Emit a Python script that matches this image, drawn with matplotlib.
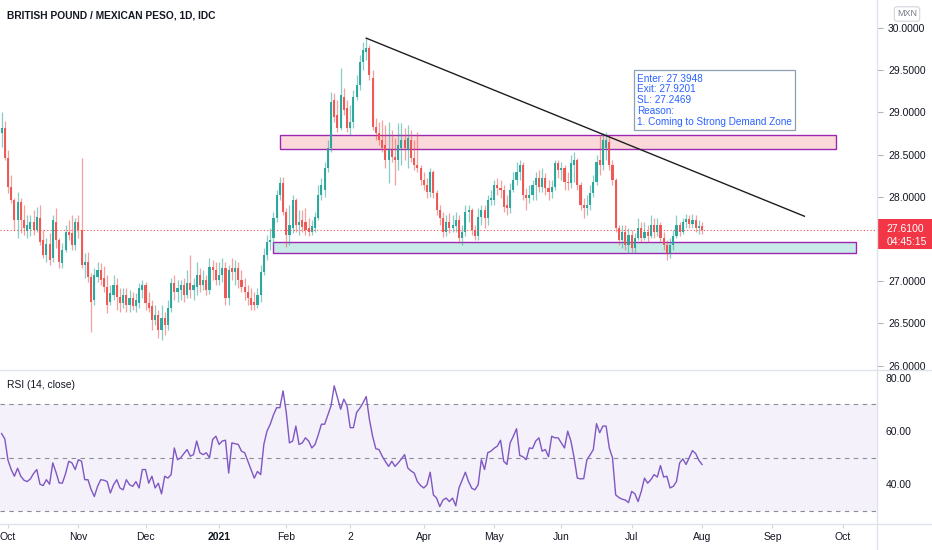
import numpy as np
import pandas as pd
import matplotlib
matplotlib.use("Agg")
import matplotlib.pyplot as plt
from matplotlib.patches import Rectangle
from matplotlib.lines import Line2D

plt.rcParams['font.family'] = ['Liberation Sans Narrow', 'Liberation Sans', 'DejaVu Sans']

# daily GBP/MXN candles from 29 Sep 2020 to 2 Aug 2021
first_day = '2020-09-29'
opens = [28.76, 28.82, 28.46, 28.12, 27.96, 27.73, 27.94, 27.73, 27.60, 27.62,
         27.70, 27.61, 27.75, 27.49, 27.31, 27.44, 27.28, 27.70, 27.49, 27.22,
         27.37, 27.58, 27.57, 27.43, 27.70, 27.61, 27.19, 27.23, 27.05, 26.78,
         27.05, 27.13, 27.04, 26.93, 26.75, 26.84, 26.96, 26.81, 26.74, 26.84,
         26.72, 26.80, 26.71, 26.74, 26.90, 26.96, 26.74, 26.71, 26.54, 26.60,
         26.42, 26.56, 26.48, 26.68, 26.98, 26.87, 26.90, 26.96, 26.84, 26.98,
         26.90, 26.93, 27.07, 26.96, 27.01, 26.90, 27.17, 27.13, 27.01, 27.07,
         27.16, 26.80, 27.16, 27.11, 27.16, 27.01, 26.93, 26.87, 26.80, 26.75,
         26.72, 26.84, 27.11, 27.31, 27.47, 27.51, 27.75, 28.02, 28.16, 27.82,
         27.55, 27.63, 27.96, 27.67, 27.73, 27.70, 27.63, 27.58, 27.63, 27.75,
         28.02, 28.08, 28.34, 28.58, 29.15, 28.97, 28.82, 29.18, 29.05, 28.82,
         28.89, 29.18, 29.33, 29.60, 29.72, 29.76, 29.41, 28.83, 28.76, 28.67,
         28.61, 28.44, 28.55, 28.47, 28.44, 28.58, 28.67, 28.55, 28.67, 28.46,
         28.38, 28.34, 28.20, 28.14, 28.06, 28.29, 28.05, 27.84, 27.75, 27.58,
         27.70, 27.63, 27.65, 27.73, 27.51, 27.58, 27.82, 27.84, 27.61, 27.54,
         27.76, 27.84, 27.75, 27.96, 27.96, 28.14, 28.11, 28.08, 27.90, 27.87,
         28.08, 28.20, 28.29, 28.38, 28.02, 27.99, 28.02, 28.14, 28.22, 28.12,
         28.22, 28.11, 28.06, 28.12, 28.40, 28.32, 28.34, 28.18, 28.16, 28.38,
         28.44, 28.14, 27.90, 27.87, 27.90, 28.05, 28.18, 28.44, 28.38, 28.58,
         28.65, 28.38, 28.20, 27.63, 27.49, 27.58, 27.43, 27.55, 27.39, 27.51,
         27.63, 27.51, 27.58, 27.54, 27.67, 27.58, 27.67, 27.51, 27.43, 27.33,
         27.43, 27.54, 27.67, 27.58, 27.70, 27.74, 27.68, 27.73, 27.63, 27.65]
highs = [29.01, 28.90, 28.55, 28.26, 27.99, 28.06, 27.99, 27.90, 27.79, 27.79,
         27.84, 27.88, 27.90, 27.61, 27.51, 27.57, 27.79, 27.87, 27.51, 27.45,
         27.67, 27.73, 27.79, 27.75, 27.79, 28.46, 27.33, 27.35, 27.10, 27.16,
         27.23, 27.22, 27.18, 27.07, 26.96, 27.07, 27.04, 26.92, 26.92, 26.92,
         26.90, 26.87, 26.86, 26.98, 27.01, 26.99, 26.87, 26.78, 26.72, 26.66,
         26.72, 26.64, 26.78, 27.04, 27.07, 27.01, 27.01, 27.04, 27.13, 27.31,
         27.04, 27.23, 27.16, 27.13, 27.07, 27.28, 27.25, 27.23, 27.23, 27.28,
         27.23, 27.19, 27.28, 27.25, 27.23, 27.13, 27.04, 26.96, 26.92, 26.87,
         26.92, 27.19, 27.39, 27.55, 27.63, 27.82, 28.08, 28.23, 28.23, 27.87,
         27.90, 28.02, 27.99, 27.84, 27.84, 27.87, 27.75, 27.73, 27.82, 28.14,
         28.22, 28.41, 28.67, 29.24, 29.23, 29.15, 29.53, 29.29, 29.15, 29.09,
         29.27, 29.44, 29.68, 29.83, 29.88, 29.80, 29.50, 28.93, 28.89, 28.91,
         28.85, 28.89, 28.79, 28.70, 28.87, 28.87, 28.82, 28.85, 28.79, 28.67,
         28.77, 28.38, 28.29, 28.22, 28.34, 28.32, 28.08, 27.90, 27.82, 27.79,
         27.81, 27.79, 27.82, 27.79, 27.67, 27.90, 27.90, 27.87, 27.67, 27.87,
         27.90, 27.90, 28.02, 28.08, 28.20, 28.22, 28.20, 28.14, 28.02, 28.16,
         28.29, 28.41, 28.44, 28.41, 28.11, 28.14, 28.20, 28.29, 28.32, 28.34,
         28.28, 28.20, 28.20, 28.44, 28.44, 28.41, 28.38, 28.29, 28.50, 28.53,
         28.46, 28.18, 27.99, 28.02, 28.14, 28.26, 28.50, 28.73, 28.76, 28.77,
         28.73, 28.44, 28.22, 27.67, 27.67, 27.67, 27.63, 27.61, 27.57, 27.75,
         27.70, 27.70, 27.67, 27.79, 27.75, 27.75, 27.70, 27.58, 27.49, 27.51,
         27.61, 27.79, 27.70, 27.75, 27.80, 27.79, 27.80, 27.79, 27.73, 27.70]
lows = [28.59, 28.44, 28.05, 27.93, 27.61, 27.51, 27.57, 27.55, 27.51, 27.54,
        27.55, 27.58, 27.43, 27.28, 27.23, 27.19, 27.23, 27.39, 27.16, 27.16,
        27.35, 27.49, 27.37, 27.37, 27.51, 27.16, 27.04, 26.99, 26.40, 26.72,
        26.99, 26.96, 26.87, 26.62, 26.72, 26.78, 26.66, 26.64, 26.68, 26.64,
        26.64, 26.66, 26.64, 26.68, 26.80, 26.66, 26.64, 26.42, 26.48, 26.33,
        26.30, 26.36, 26.42, 26.64, 26.78, 26.75, 26.78, 26.75, 26.80, 26.80,
        26.78, 26.84, 26.87, 26.90, 26.84, 26.85, 27.01, 26.96, 26.96, 26.99,
        26.72, 26.72, 27.01, 26.96, 26.92, 26.87, 26.78, 26.72, 26.66, 26.66,
        26.68, 26.75, 27.07, 27.25, 27.37, 27.43, 27.70, 27.96, 27.78, 27.41,
        27.43, 27.57, 27.58, 27.55, 27.58, 27.55, 27.54, 27.55, 27.58, 27.73,
        27.96, 28.00, 28.29, 28.53, 28.89, 28.77, 28.79, 28.97, 28.77, 28.73,
        28.82, 29.15, 29.27, 29.50, 29.62, 29.38, 28.79, 28.67, 28.61, 28.53,
        28.34, 28.16, 28.41, 28.14, 28.32, 28.38, 28.44, 28.34, 28.41, 28.32,
        28.29, 28.14, 28.08, 27.99, 28.00, 27.99, 27.79, 27.67, 27.52, 27.54,
        27.57, 27.58, 27.58, 27.45, 27.43, 27.54, 27.70, 27.55, 27.49, 27.49,
        27.67, 27.63, 27.67, 27.90, 27.90, 28.02, 27.99, 27.82, 27.79, 27.81,
        28.06, 28.14, 28.20, 27.96, 27.84, 27.93, 27.96, 27.96, 28.06, 28.06,
        28.02, 27.96, 27.99, 28.08, 28.22, 28.20, 28.08, 28.08, 28.10, 28.18,
        28.08, 27.84, 27.75, 27.78, 27.84, 28.00, 28.14, 28.26, 28.32, 28.44,
        28.32, 28.14, 27.58, 27.43, 27.39, 27.37, 27.33, 27.35, 27.33, 27.49,
        27.47, 27.49, 27.47, 27.51, 27.51, 27.54, 27.47, 27.37, 27.25, 27.28,
        27.37, 27.51, 27.54, 27.56, 27.63, 27.63, 27.63, 27.58, 27.56, 27.56]
closes = [28.82, 28.46, 28.12, 27.96, 27.73, 27.94, 27.73, 27.63, 27.67, 27.70,
          27.61, 27.76, 27.47, 27.31, 27.44, 27.25, 27.73, 27.49, 27.23, 27.37,
          27.58, 27.55, 27.43, 27.70, 27.61, 27.19, 27.23, 27.05, 26.75, 27.07,
          27.13, 27.01, 26.93, 26.72, 26.86, 26.96, 26.81, 26.74, 26.84, 26.72,
          26.80, 26.71, 26.78, 26.92, 26.96, 26.74, 26.68, 26.54, 26.60, 26.42,
          26.56, 26.48, 26.68, 26.98, 26.87, 26.92, 26.96, 26.84, 26.98, 26.90,
          26.96, 27.07, 26.96, 27.01, 26.90, 27.17, 27.13, 27.01, 27.07, 27.16,
          26.80, 27.13, 27.11, 27.16, 27.01, 26.93, 26.87, 26.80, 26.72, 26.72,
          26.84, 27.11, 27.31, 27.47, 27.49, 27.75, 28.02, 28.16, 27.82, 27.55,
          27.67, 27.96, 27.67, 27.70, 27.64, 27.61, 27.58, 27.65, 27.76, 28.02,
          28.14, 28.34, 28.58, 29.12, 28.95, 28.82, 29.21, 29.03, 28.82, 28.89,
          29.18, 29.33, 29.60, 29.74, 29.76, 29.44, 28.83, 28.76, 28.67, 28.58,
          28.44, 28.55, 28.47, 28.44, 28.61, 28.67, 28.58, 28.70, 28.46, 28.38,
          28.34, 28.20, 28.14, 28.06, 28.29, 28.05, 27.84, 27.75, 27.58, 27.70,
          27.63, 27.67, 27.73, 27.51, 27.58, 27.82, 27.84, 27.61, 27.54, 27.76,
          27.84, 27.75, 27.96, 27.99, 28.14, 28.11, 28.08, 27.88, 27.87, 28.08,
          28.20, 28.29, 28.38, 28.02, 27.99, 28.02, 28.14, 28.22, 28.12, 28.22,
          28.11, 28.06, 28.12, 28.40, 28.32, 28.34, 28.18, 28.16, 28.40, 28.44,
          28.14, 27.90, 27.87, 27.90, 28.05, 28.18, 28.41, 28.38, 28.67, 28.67,
          28.38, 28.20, 27.63, 27.49, 27.58, 27.43, 27.55, 27.39, 27.51, 27.63,
          27.51, 27.58, 27.54, 27.67, 27.58, 27.67, 27.51, 27.43, 27.33, 27.43,
          27.54, 27.67, 27.58, 27.70, 27.74, 27.68, 27.73, 27.63, 27.65, 27.61]
rsi = [59, 57, 49, 45.5, 43, 46, 43, 41.5, 41, 42,
       44, 45.5, 40, 39.5, 41.7, 40, 48, 44.5, 40.5, 40.4,
       44, 48.6, 48, 45.5, 49.2, 48.6, 41.7, 41.7, 38, 35.4,
       39.2, 41.7, 41.5, 41, 36.7, 39.8, 41.7, 38.6, 37.9, 41.7,
       39.8, 39.2, 41, 38.6, 45.5, 45.5, 40.4, 43, 38.6, 40.4,
       36.4, 43, 42.3, 43.6, 53.6, 49.2, 49.9, 51.5, 53, 50.5,
       51.1, 56.2, 51.8, 51.1, 51.8, 49.9, 56.8, 58, 54.9, 56.2,
       56.5, 44.2, 55.5, 55.2, 54.9, 52.4, 51.8, 48.6, 45.5, 42.3,
       44.8, 43.6, 55, 60, 62.5, 66, 68.7, 68.7, 75, 66.9,
       55.5, 56.2, 61.8, 54.9, 55.5, 57.4, 56.2, 53.6, 54.9, 58.5,
       62.5, 62.5, 66, 69.4, 76.9, 72.5, 68.1, 71.9, 69.4, 61.2,
       61.2, 66.9, 68.5, 70.5, 72.9, 64.3, 58, 53.3, 53, 50.5,
       48.5, 46.7, 48.6, 46.7, 48, 49.5, 51.1, 46.1, 45, 44.2,
       41, 39.5, 38.6, 39.8, 44.5, 36, 34.8, 31.6, 34.1, 34.8,
       33.5, 34.8, 31.9, 38.6, 41.5, 44.5, 41, 38.5, 37.9, 39.8,
       49.2, 45.5, 51.8, 52.4, 53.5, 54.3, 56.5, 48.6, 47.4, 55.5,
       58, 60.8, 50.8, 50.3, 49.2, 53.6, 53.4, 56.2, 57.4, 52.4,
       53, 50.3, 58, 57.4, 57.4, 55.5, 53.6, 59.9, 56.2, 49.9,
       42.3, 42, 42.1, 49.2, 51, 53, 62.7, 59.3, 61.8, 61.8,
       53.6, 49.9, 36, 35, 34.4, 34.1, 33.1, 37.3, 36.4, 33.5,
       37.3, 42.3, 40.4, 41.7, 43.6, 42.7, 47, 42.7, 43, 38.6,
       39.2, 41, 48, 49.5, 47.4, 50, 52.6, 51.5, 49, 47.4]

month_labels = ['Oct', 'Nov', 'Dec', '2021', 'Feb', '2', 'Apr', 'May',
                'Jun', 'Jul', 'Aug', 'Sep', 'Oct']
price_ticks = [26.0, 26.5, 27.0, 28.0, 28.5, 29.0, 29.5, 30.0]
rsi_ticks = [40, 60, 80]
rsi_levels = [30, 50, 70]

# drawings
supply_zone = ('2021-01-28', '2021-09-29', 28.57, 28.73)
demand_zone = ('2021-01-26', '2021-10-07', 27.33, 27.47)
trend_line = [('2021-03-08', 29.88), ('2021-09-15', 27.77)]
note = "Enter: 27.3948\nExit: 27.9201\nSL: 27.2469\nReason:\n1. Coming to Strong Demand Zone"
note_at = ('2021-07-02', 29.46)
countdown = '04:45:15'

UP, DOWN = '#26a69a', '#ef5350'
TXT = '#131722'
W, H = 932, 550
FS = 7.5

# bar index calendar (weekdays, extends into the future for the axis)
days = pd.bdate_range(first_day, '2021-10-29')
bar_of = {d: i for i, d in enumerate(days)}

def bar(d):
    return bar_of[pd.Timestamp(d)]

pos = pd.Series(np.arange(len(days)), index=days)
month_pos = pos.groupby(days.to_period('M')).first().values[1:]

o, h, l, c = map(np.array, (opens, highs, lows, closes))
x = np.arange(len(c))
last_price = c[-1]

fig = plt.figure(figsize=(W / 100, H / 100), dpi=100)
ax = fig.add_axes([0, 180 / H, 877 / W, 370 / H])
ax_r = fig.add_axes([0, 26 / H, 877 / W, 153 / H])

# candles
col = np.where(c >= o, UP, DOWN)
ax.vlines(x, l, h, colors=col, lw=0.9, alpha=0.55)
ax.bar(x, np.maximum(np.abs(c - o), 0.012), bottom=np.minimum(o, c),
       width=0.66, color=col, lw=0, alpha=0.95)

ax.axhline(last_price, color=DOWN, lw=0.8, ls=(0, (1, 2)), zorder=1)

# zones
for x0, x1, y0, y1, fc in [(*supply_zone, '#fbd9da'), (*demand_zone, '#c8ebe7')]:
    ax.add_patch(Rectangle((bar(x0), y0), bar(x1) - bar(x0), y1 - y0,
                           fc=fc, ec='#9c27b0', lw=1.0, zorder=0.5))

(t0, p0), (t1, p1) = trend_line
ax.plot([bar(t0), bar(t1)], [p0, p1], color='#1e1e1e', lw=1.0)

ax.text(bar(note_at[0]) + 0.7, note_at[1], note, ha='left', va='top',
        fontsize=7.2, color='#2962ff', linespacing=1.1,
        bbox=dict(fc='white', ec='#8e9fb0', lw=0.9, pad=2.2))

ax.set_xlim(-0.5, 273.7)
ax.set_ylim(25.948, 30.332)
ax.yaxis.tick_right()
ax.set_yticks(price_ticks)
ax.set_yticklabels([f'{v:.4f}' for v in price_ticks])
ax.set_xticks([])
ax.tick_params(axis='y', length=4, color='#b2b5be', pad=4, labelsize=FS, labelcolor=TXT)
for s in ax.spines.values():
    s.set_visible(False)

# last price tag
ax.add_patch(Rectangle((1.001, last_price - 0.228), 0.07, 0.355,
                       transform=ax.get_yaxis_transform(), fc='#f23645', ec='none',
                       clip_on=False, zorder=10))
ax.text(1.0105, last_price + 0.005, f'{last_price:.4f}', transform=ax.get_yaxis_transform(),
        va='center', ha='left', color='white', fontsize=FS, clip_on=False, zorder=11)
ax.text(1.0105, last_price - 0.150, countdown, transform=ax.get_yaxis_transform(),
        va='center', ha='left', color='white', fontsize=FS, clip_on=False, zorder=11)

# RSI pane
ax_r.axhspan(rsi_levels[0], rsi_levels[-1], color='#7e57c2', alpha=0.08, lw=0)
for lv in rsi_levels:
    ax_r.axhline(lv, color='#8a8d96', lw=0.8, ls=(0, (4, 4)))
ax_r.plot(x, rsi, color='#7e57c2', lw=1.0)
ax_r.set_xlim(-0.5, 273.7)
ax_r.set_ylim(25.09, 82.45)
ax_r.yaxis.tick_right()
ax_r.set_yticks(rsi_ticks)
ax_r.set_yticklabels([f'{v:.2f}' for v in rsi_ticks])
ax_r.set_xticks(month_pos)
ax_r.set_xticklabels(month_labels)
ax_r.get_xticklabels()[3].set_fontweight('bold')
ax_r.tick_params(axis='y', length=0, pad=6, labelsize=FS, labelcolor=TXT)
ax_r.tick_params(axis='x', length=3, color='#d1d4dc', pad=3, labelsize=FS, labelcolor=TXT)
for s in ax_r.spines.values():
    s.set_visible(False)

# pane frame lines
for seg in [([0, 1], [180 / H] * 2), ([0, 1], [26 / H] * 2), ([877 / W] * 2, [0, 1])]:
    fig.add_artist(Line2D(*seg, color='#e0e3eb', lw=1.0))

fig.text(7 / W, 1 - 15 / H, 'BRITISH POUND / MEXICAN PESO, 1D, IDC',
         fontsize=7.4, weight='bold', color=TXT, va='center')
fig.text(7 / W, 1 - 385 / H, 'RSI (14, close)', fontsize=7.4, color=TXT, va='center')
fig.text(907 / W, 1 - 14 / H, 'MXN', fontsize=6.5, color='#787b86', ha='center', va='center',
         bbox=dict(boxstyle='round,pad=0.3', fc='white', ec='#d1d4dc', lw=0.8))

fig.savefig('out.png', dpi=100)
